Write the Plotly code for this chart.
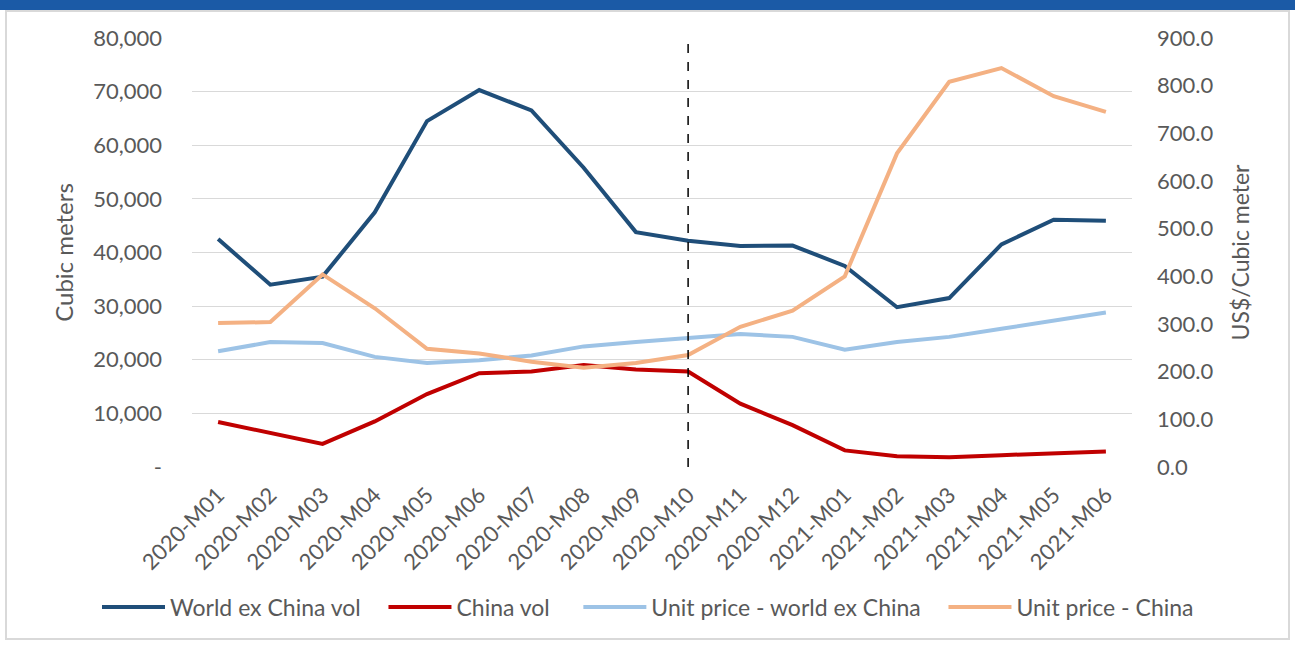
import plotly.graph_objects as go

categories = ["2020-M01", "2020-M02", "2020-M03", "2020-M04", "2020-M05", "2020-M06",
              "2020-M07", "2020-M08", "2020-M09", "2020-M10", "2020-M11", "2020-M12",
              "2021-M01", "2021-M02", "2021-M03", "2021-M04", "2021-M05", "2021-M06"]

world_vol = [42500, 34000, 35500, 47500, 64500, 70300, 66500, 55800, 43800,
             42200, 41200, 41300, 37500, 29800, 31500, 41500, 46100, 45900]
china_vol = [8400, 6400, 4300, 8500, 13600, 17500, 17800, 19000, 18200,
             17800, 11800, 7800, 3100, 2000, 1800, 2200, 2500, 2900]
price_world = [243, 262, 260, 231, 218, 224, 234, 253, 262,
               270, 279, 273, 246, 262, 273, 290, 308, 324]
price_china = [302, 304, 404, 333, 248, 238, 221, 208, 218,
               235, 294, 328, 400, 658, 808, 837, 778, 745]

left_ticks = [0, 10000, 20000, 30000, 40000, 50000, 60000, 70000, 80000]
left_ticktext = ["-", "10,000", "20,000", "30,000", "40,000", "50,000", "60,000", "70,000", "80,000"]
right_ticks = [0, 100, 200, 300, 400, 500, 600, 700, 800, 900]

marker_category = "2020-M10"

FONT = "Lato"
GREY = "#595959"
NB = "\u00a0"  # extra spacing between legend entries

fig = go.Figure()
fig.add_trace(go.Scatter(x=categories, y=world_vol, name="World ex China vol" + NB * 3, mode="lines",
                         line=dict(color="#1F4E79", width=4)))
fig.add_trace(go.Scatter(x=categories, y=china_vol, name="China vol" + NB * 4, mode="lines",
                         line=dict(color="#C00000", width=4)))
fig.add_trace(go.Scatter(x=categories, y=price_world, name="Unit price - world ex China" + NB * 3, mode="lines",
                         line=dict(color="#9DC3E6", width=4), yaxis="y2"))
fig.add_trace(go.Scatter(x=categories, y=price_china, name="Unit price - China", mode="lines",
                         line=dict(color="#F4B183", width=4), yaxis="y2"))

L, R, T, B = 192, 163, 38, 179
W, H = 1295, 646
pw, ph = W - L - R, H - T - B

def px_x(px):
    return (px - L) / pw

def px_y(py):
    return (H - B - py) / ph

fig.add_shape(type="line", xref="x", yref="y", x0=marker_category, x1=marker_category,
              y0=0, y1=79000, line=dict(color="black", width=1.5, dash="dash"))

# frame and header band
fig.add_shape(type="rect", xref="paper", yref="paper", layer="below",
              x0=px_x(6), x1=px_x(1289), y0=px_y(639), y1=px_y(11),
              line=dict(color="#D9D9D9", width=2), fillcolor="white")
fig.add_shape(type="rect", xref="paper", yref="paper",
              x0=px_x(0), x1=px_x(W), y0=px_y(10), y1=px_y(-2),
              line=dict(width=0), fillcolor="#1B5AA6")

fig.update_layout(
    width=W, height=H,
    margin=dict(l=L, r=R, t=T, b=B, autoexpand=False),
    paper_bgcolor="white", plot_bgcolor="white",
    font=dict(family=FONT, color=GREY, size=20),
    showlegend=True,
    legend=dict(orientation="h", xref="paper", yref="paper",
                x=px_x(97), xanchor="left", y=px_y(607), yanchor="middle",
                font=dict(size=23, color=GREY, family=FONT), itemwidth=63,
                tracegroupgap=0, bgcolor="rgba(0,0,0,0)"),
    xaxis=dict(type="category", tickangle=-45, showgrid=False, showline=False,
               ticks="", tickfont=dict(size=22, color=GREY), range=[-0.5, 17.5],
               ticklabelstandoff=10),
    yaxis=dict(range=[0, 80000], tickvals=left_ticks, ticktext=left_ticktext,
               showgrid=True, gridcolor="#D9D9D9", gridwidth=1, zeroline=False,
               tickfont=dict(size=22, color=GREY), ticklabelstandoff=29,
               title=dict(text="Cubic meters", font=dict(size=24, color=GREY), standoff=12)),
    yaxis2=dict(range=[0, 900], tickvals=right_ticks, tickformat=".1f", overlaying="y",
                side="right", showgrid=False, zeroline=False,
                tickfont=dict(size=22, color=GREY), ticklabelstandoff=24,
                title=dict(text="US$/Cubic meter", font=dict(size=23, color=GREY), standoff=20)),
)

fig.write_html("out.html")
